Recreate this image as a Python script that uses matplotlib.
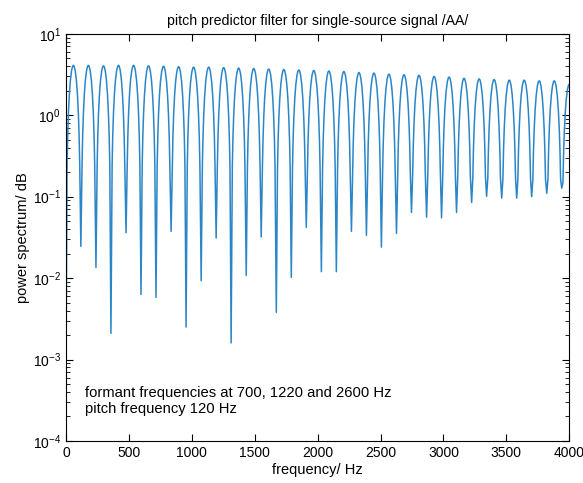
import numpy as np
import matplotlib
matplotlib.use('Agg')
import matplotlib.pyplot as plt
from matplotlib.ticker import LogLocator, NullFormatter

plt.rcParams['font.family'] = ['Liberation Sans', 'DejaVu Sans']

#--------------------------------------------------------------------
# values

# notch (zero) frequencies of the comb, Hz
notch_hz = [0, 119, 239, 358, 478, 597, 716, 836, 955, 1075, 1194, 1313,
            1433, 1552, 1672, 1791, 1910, 2030, 2149, 2269, 2388, 2507,
            2627, 2746, 2866, 2985, 3104, 3224, 3343, 3463, 3582, 3701,
            3821, 3940]
# depth at each notch
notch_val = [4.8e-4, 0.0245, 0.0135, 0.0021, 0.036, 0.0063, 0.0058, 0.0375,
             0.0025, 0.0093, 0.031, 0.0016, 0.0108, 0.032, 0.0038, 0.0102,
             0.042, 0.012, 0.012, 0.0375, 0.0335, 0.024, 0.0355, 0.064,
             0.056, 0.055, 0.064, 0.085, 0.101, 0.096, 0.096, 0.10, 0.110,
             0.127]
# peak height after each notch (last one is cut by the 4000 Hz edge)
peak_val = [4.1, 4.1, 4.05, 4.1, 4.1, 4.05, 4.0, 3.95, 3.9, 3.9, 3.85, 3.8,
            3.75, 3.7, 3.65, 3.6, 3.55, 3.5, 3.45, 3.35, 3.3, 3.2, 3.15, 3.1,
            3.0, 2.95, 2.85, 2.8, 2.75, 2.7, 2.7, 2.65, 2.65, 2.4]
# shape of one tooth: fraction of the period after the notch, level rel. to peak
tooth_phase = [0.08, 0.12, 0.17, 0.23, 0.30, 0.38, 0.45, 0.50]
tooth_level = [0.062, 0.136, 0.259, 0.437, 0.655, 0.865, 0.976, 1.0]

pitch_hz = 119.4
x_ticks = [0, 500, 1000, 1500, 2000, 2500, 3000, 3500, 4000]
#--------------------------------------------------------------------

# build the curve tooth by tooth
f = []
p = []
for k in range(len(notch_hz)):
    f.append(notch_hz[k])
    p.append(notch_val[k])
    for ph, lv in zip(tooth_phase, tooth_level):
        f.append(notch_hz[k] + ph*pitch_hz)
        p.append(lv*peak_val[k])
    if k + 1 < len(notch_hz):
        for ph, lv in zip(tooth_phase[::-1][1:], tooth_level[::-1][1:]):
            f.append(notch_hz[k] + (1 - ph)*pitch_hz)
            p.append(lv*peak_val[k])

fig = plt.figure(figsize=(5.83, 4.83), dpi=100)
ax = fig.add_axes([0.113, 0.087, 0.8635, 0.843])
ax.semilogy(f, p, color='#2b86c8', lw=1.1)

ax.set_xlim(0, 4000)
ax.set_ylim(1e-4, 1e1)
ax.set_xticks(x_ticks)
ax.yaxis.set_major_locator(LogLocator(base=10, numticks=10))
ax.yaxis.set_minor_locator(LogLocator(base=10, subs=np.arange(2, 10), numticks=20))
ax.yaxis.set_minor_formatter(NullFormatter())
ax.tick_params(which='both', direction='in', top=True, right=True, labelsize=10)
ax.tick_params(which='major', length=5)
ax.tick_params(which='minor', length=3)

ax.set_title('pitch predictor filter for single-source signal /AA/', fontsize=10.2, pad=6)
ax.set_xlabel('frequency/ Hz', fontsize=10.5, labelpad=2)
ax.set_ylabel('power spectrum/ dB', fontsize=10.5, labelpad=2)
ax.text(0.038, 0.098, 'formant frequencies at 700, 1220 and 2600 Hz\npitch frequency 120 Hz',
        transform=ax.transAxes, fontsize=10.6, va='center', ha='left', linespacing=1.25)

fig.savefig('out.png', dpi=100)
